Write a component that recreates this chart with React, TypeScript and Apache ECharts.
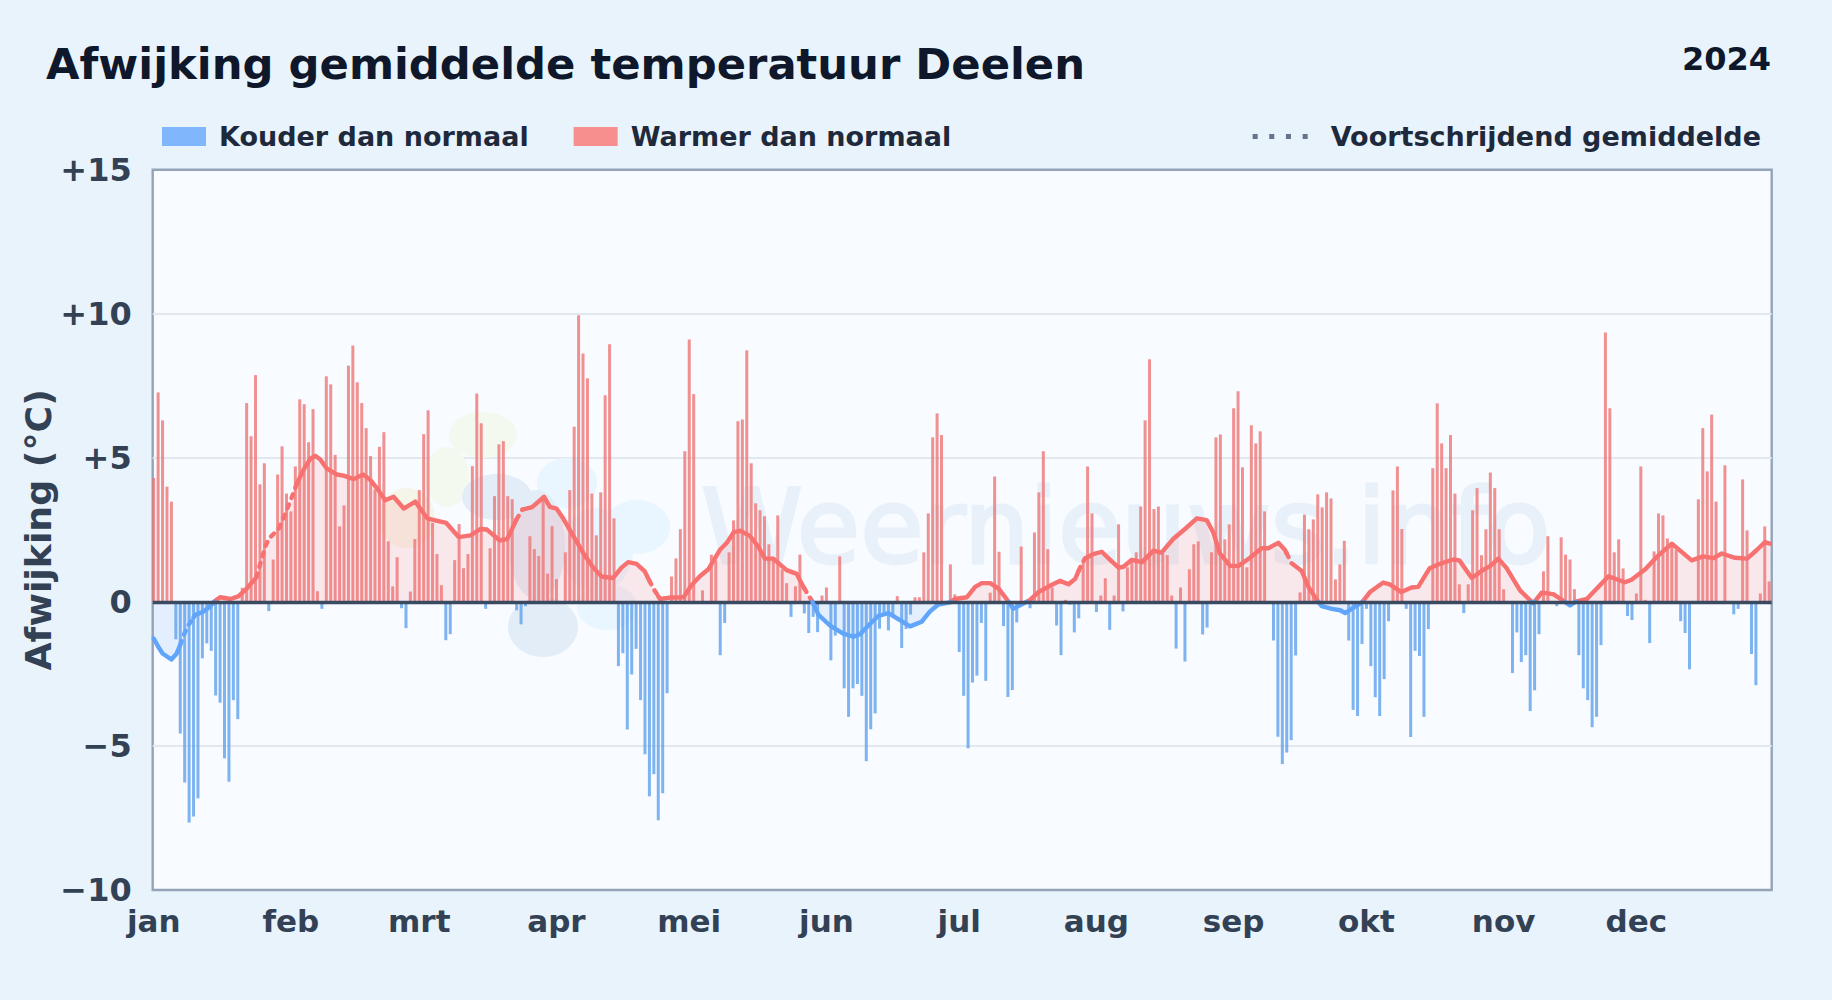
import React, { useEffect, useRef } from "react";
import * as echarts from "echarts";

const FONT = "DejaVu Sans";
const monthLabels = ["jan", "feb", "mrt", "apr", "mei", "jun", "jul", "aug", "sep", "okt", "nov", "dec"];
const monthStarts = [0, 31, 60, 91, 121, 152, 182, 213, 244, 274, 305, 335];
const yTicks = [-10, -5, 0, 5, 10, 15];

const janValues = [4.3,7.27,6.3,4.0,3.48,-1.3,-4.57,-6.27,-7.66,-7.45,-6.82,-1.96,-1.44,-1.7,-3.25,-3.5,-5.43,-6.24,-3.41,-4.07,0.49,6.9,5.75,7.87,4.08,4.81,-0.32,1.47,4.42,5.4,3.76];
const febValues = [3.14,4.7,7.03,6.86,5.54,6.69,0.37,-0.24,7.83,7.55,5.1,2.62,3.35,8.2,8.9,7.62,6.9,6.03,5.06,3.9,5.38,5.89,2.1,0.54,1.55,-0.22,-0.91,0.36,2.18];
const mrtValues = [3.88,5.82,6.65,2.74,1.66,0.58,-1.33,-1.12,1.45,2.7,1.17,1.66,4.71,7.23,6.2,-0.24,1.86,3.67,5.47,5.58,3.67,3.56,-0.29,-0.78,-0.15,2.28,1.83,1.59,3.65,0.98,2.63];
const aprValues = [0.79,0,1.72,3.88,6.08,9.95,8.62,7.76,3.76,2.31,3.8,7.17,8.94,2.9,-2.23,-1.78,-4.43,-2.52,-1.63,-3.41,-5.29,-6.75,-5.98,-7.58,-6.64,-3.17,0.88,1.51,2.52,5.23];
const meiValues = [9.11,7.21,0,0.4,0,1.64,1.44,-1.85,-0.73,1.72,2.83,6.27,6.33,8.73,4.81,3.42,3.18,2.97,2.0,1.56,3.0,1.13,0.65,-0.52,0.54,1.64,-0.4,-1.08,-0.52,-1.05,0.22];
const junValues = [0.5,-2.03,-1.17,1.58,-3,-3.99,-3,-2.85,-3.26,-5.53,-4.42,-3.87,-0.93,-0.45,-0.99,-0.5,0.2,-1.6,-0.94,-0.44,0.16,0.16,1.72,3.07,5.71,6.54,5.79,0,1.3,0.26];
const julValues = [-1.74,-3.26,-5.08,-2.8,-2.56,-0.73,-2.74,0.32,4.35,1.74,-0.84,-3.3,-3.06,-0.71,1.92,0,-0.22,2.41,3.8,5.23,1.83,0.5,-0.82,-1.85,0.07,-0.1,-1.06,-0.57,1.44,4.7,3.07];
const augValues = [-0.35,0.22,0.82,-0.97,0.22,2.69,-0.33,1.2,1.44,1.72,3.31,6.3,8.42,3.22,3.31,1.68,1.62,0.22,-1.62,0.5,-2.07,1.13,2.0,2.1,-1.13,-0.89,1.72,5.71,5.81,2.17,2.69];
const sepValues = [6.72,7.31,4.67,1.2,6.13,5.5,5.92,3.14,0,-1.34,-4.68,-5.63,-5.23,-4.8,-1.86,0.33,3.03,2.52,2.86,3.73,3.28,3.8,3.59,0.78,1.3,2.12,-1.34,-3.75,-3.96,-1.46];
const oktValues = [-0.24,-2.23,-3.31,-3.96,-2.68,-0.67,3.87,4.7,2.53,-0.24,-4.69,-1.7,-1.88,-3.99,-0.94,4.64,6.89,5.5,4.64,5.79,3.76,0.61,-0.39,0.61,3.18,3.95,1.62,2.52,4.49,3.95,2.52];
const novValues = [0.44,0,-2.47,-1.06,-2.09,-1.85,-3.79,-3.07,-1.12,1.06,2.28,0,-0.15,2.24,1.64,1.47,0.44,-1.85,-3,-3.41,-4.35,-3.99,-1.5,9.35,6.72,1.72,2.17,1.16,-0.49,-0.63];
const decValues = [0.29,4.7,0.07,-1.43,1.75,3.07,3,2.2,2.05,1.8,-0.67,-1.08,-2.34,0,3.56,6.03,4.53,6.5,3.48,0,4.74,0,-0.43,-0.24,4.25,2.48,-1.81,-2.89,0.29,2.62,0.71];

// moving average: [day of the year, deviation]
const movingAverage: [number, number][] = [
  [0,-1.27],[1,-1.55],[2,-1.79],[4,-2.0],[5.2,-1.79],[6,-1.49],[6.7,-1.18],[7.8,-0.82],[9.4,-0.45],[11.2,-0.34],[12.4,-0.2],[13.9,0.04],[15,0.16],[17.4,0.1],[19.2,0.2],[21,0.46],[23.2,0.85],[24.2,1.38],[25.2,1.92],[26,2.19],[28.2,2.53],[29.3,2.9],[31.2,3.63],[32.4,4.12],[33.9,4.6],[35.4,4.97],[36.5,5.07],[37.6,4.95],[39.1,4.63],[41.4,4.42],[42.9,4.38],[45.2,4.26],[47.3,4.42],[48.9,4.24],[50.8,3.87],[52.3,3.53],[54.2,3.65],[56.5,3.24],[59.1,3.48],[61.8,2.9],[63.6,2.83],[66.1,2.74],[68.9,2.25],[71.6,2.31],[73.8,2.53],[75.3,2.51],[78.2,2.13],[79.9,2.19],[82.1,2.9],[83.3,3.2],[85.5,3.29],[88.2,3.65],
  [89.5,3.3],[91,3.24],[92.5,2.9],[94.8,2.29],[97.1,1.68],[99.3,1.19],[101.2,0.88],[103.8,0.83],[105.7,1.19],[107.2,1.38],[109.1,1.32],[110.9,1.07],[112.9,0.46],[114.4,0.1],[116.6,0.15],[119.7,0.16],[121.5,0.58],[123.4,0.89],[125.3,1.13],[127.9,1.8],[129.5,2.05],[131,2.41],[132.5,2.47],[134.7,2.29],[136.6,1.92],[138.1,1.5],[140,1.5],[143,1.1],[145.3,0.97],[146.8,0.52],[148.7,0.04],[150.2,-0.45],[152.8,-0.82],[155.8,-1.1],[158.1,-1.21],[159.6,-1.12],[161.5,-0.82],[163.7,-0.49],[166,-0.39],[168.6,-0.63],[170.9,-0.85],[173.5,-0.69],[175.4,-0.33],[177.3,-0.09],[179.9,-0.02],[181,0.1],
  [183.7,0.16],[185.6,0.52],[187.1,0.65],[189,0.65],[190.9,0.46],[192.7,0.1],[194.2,-0.24],[196.5,-0.06],[198,0.07],[199.9,0.34],[202.5,0.56],[204.8,0.73],[206.7,0.61],[208.2,0.8],[209.3,1.19],[210.4,1.5],[212.3,1.66],[214.2,1.74],[216.1,1.46],[218,1.19],[219.1,1.22],[221,1.46],[223.3,1.38],[225.9,1.78],[227.7,1.71],[230.4,2.19],[233,2.53],[235.7,2.9],[237.9,2.84],[239.4,2.41],[240.9,1.68],[243.2,1.25],[245.1,1.25],[247.7,1.53],[250.3,1.86],[251.8,1.86],[254.1,2.05],[255.6,1.8],[257.1,1.34],[259.4,1.07],[260.9,0.52],[262.8,0.07],[263.9,-0.15],[266.2,-0.24],[268.1,-0.29],[269.2,-0.39],[271.1,-0.2],[273,-0.02],
  [274.8,0.34],[277.8,0.67],[279.3,0.61],[281.9,0.34],[284.2,0.5],[285.7,0.52],[288.3,1.17],[290.6,1.32],[293.6,1.47],[295,1.44],[297.8,0.83],[300.4,1.11],[302,1.25],[303.8,1.5],[305.6,1.19],[308.7,0.4],[311.7,-0.05],[313.6,0.32],[316.2,0.27],[318.5,0.04],[320,-0.12],[321.5,0.02],[323.8,0.1],[328.7,0.89],[332.4,0.68],[333.9,0.77],[337,1.13],[339.6,1.56],[343,2.02],[347.5,1.44],[350.1,1.58],[352.4,1.52],[354.3,1.68],[357.3,1.53],[360,1.5],[362.2,1.8],[364,2.07],[365.2,2.02],
];
// stretches of the moving average that the picture draws broken
const brokenStretches: [number, number][] = [[6, 9],[23.2, 32],[82, 83.3],[112, 114],[147, 149.5],[209, 210.4],[256, 257.5]];

const dailyValues = [...janValues, ...febValues, ...mrtValues, ...aprValues, ...meiValues, ...junValues, ...julValues, ...augValues, ...sepValues, ...oktValues, ...novValues, ...decValues];

type Pt = [number, number | null];
function pushSeg(list: Pt[], a: [number, number], b: [number, number]) {
  const last = list[list.length - 1];
  if (last && last[0] !== a[0]) list.push([a[0], null]);
  if (!last || last[0] !== a[0]) list.push(a);
  list.push(b);
}
function splitMovingAverage() {
  const pts: [number, number][] = [];
  const cuts = brokenStretches.flat();
  const valueAt = (x: number) => {
    for (let i = 1; i < movingAverage.length; i++) {
      const [x0, y0] = movingAverage[i - 1];
      const [x1, y1] = movingAverage[i];
      if (x >= x0 && x <= x1) return y0 + ((y1 - y0) * (x - x0)) / (x1 - x0);
    }
    return 0;
  };
  const xs = new Set<number>([...movingAverage.map((p) => p[0]), ...cuts]);
  for (let i = 1; i < movingAverage.length; i++) {
    const [x0, y0] = movingAverage[i - 1];
    const [x1, y1] = movingAverage[i];
    if (y0 * y1 < 0) xs.add(x0 - (y0 * (x1 - x0)) / (y1 - y0));
  }
  [...xs].sort((a, b) => a - b).forEach((x) => pts.push([x, valueAt(x)]));
  const lists = { posSolid: [] as Pt[], posDash: [] as Pt[], negSolid: [] as Pt[], negDash: [] as Pt[], pos: [] as Pt[], neg: [] as Pt[] };
  for (let i = 1; i < pts.length; i++) {
    const a = pts[i - 1];
    const b = pts[i];
    const midX = (a[0] + b[0]) / 2;
    const midY = (a[1] + b[1]) / 2;
    const broken = brokenStretches.some(([s, e]) => midX >= s && midX <= e);
    const up = midY >= 0;
    pushSeg(up ? lists.pos : lists.neg, a, b);
    pushSeg(up ? (broken ? lists.posDash : lists.posSolid) : broken ? lists.negDash : lists.negSolid, a, b);
  }
  return lists;
}

const RED = "#f87171";
const BLUE = "#60a5fa";
const BAR_RED = "#ee7575";
const BAR_BLUE = "#5ea1ec";

export default function App() {
  const ref = useRef<HTMLDivElement>(null);
  useEffect(() => {
    const chart = echarts.init(ref.current!, undefined, { renderer: "svg" });
    const ma = splitMovingAverage();
    const lineBase = { type: "line", showSymbol: false, symbol: "none", silent: true, z: 4, clip: true };
    const solid = { width: 4.4, cap: "round", join: "round" };
    const dash = { width: 4.4, cap: "round", join: "round", type: [4, 7] };
    const blob = (cx: number, cy: number, rx: number, ry: number, fill: string) => ({ type: "ellipse", z: 1, silent: true, shape: { cx, cy, rx, ry }, style: { fill } });
    chart.setOption({
      animation: false,
      backgroundColor: "#e8f3fc",
      textStyle: { fontFamily: FONT },
      title: [
        { text: "Afwijking gemiddelde temperatuur Deelen", left: 46, top: 42.5, padding: 0, textStyle: { fontFamily: FONT, fontSize: 43.3, fontWeight: "bold", color: "#0f172a" } },
        { text: "2024", right: 61, top: 43, padding: 0, textStyle: { fontFamily: FONT, fontSize: 32, fontWeight: "bold", color: "#0f172a" } },
      ],
      legend: [
        {
          left: 162, top: 123, padding: 0, itemWidth: 44, itemHeight: 19, itemGap: 45, selectedMode: false,
          data: [
            { name: "Kouder dan normaal", icon: "rect", itemStyle: { color: "#80b6fb", opacity: 1 } },
            { name: "Warmer dan normaal", icon: "rect", itemStyle: { color: "#f78f8f", opacity: 1 } },
          ],
          textStyle: { fontFamily: FONT, fontSize: 27, fontWeight: "bold", color: "#1e293b", padding: [0, 0, 0, 8] },
        },
        {
          right: 71, top: 123, padding: 0, itemWidth: 55, itemHeight: 5, selectedMode: false,
          data: [{ name: "Voortschrijdend gemiddelde", icon: "path://M0,0h5v5h-5z M16.6,0h5v5h-5z M33.3,0h5v5h-5z M50,0h5v5h-5z", itemStyle: { color: "#64748b", opacity: 1 } }],
          textStyle: { fontFamily: FONT, fontSize: 27, fontWeight: "bold", color: "#1e293b", padding: [0, 0, 0, 18] },
        },
      ],
      grid: { left: 152.7, right: 60.3, top: 169.7, bottom: 110, show: true, backgroundColor: "#f8fbff", borderColor: "#94a3b8", borderWidth: 2.4 },
      xAxis: {
        type: "value", min: -0.226, max: 365.57, splitLine: { show: false }, axisLine: { show: false }, axisTick: { show: false },
        axisLabel: {
          customValues: monthStarts, margin: 15, color: "#334155", fontFamily: FONT, fontSize: 31, fontWeight: "bold",
          formatter: (v: number) => monthLabels[monthStarts.indexOf(Math.round(v))] ?? "",
        },
      },
      yAxis: {
        type: "value", min: -10, max: 15, interval: 5,
        name: "Afwijking (°C)", nameLocation: "middle", nameGap: 96, nameMoveOverlap: false, nameTextStyle: { fontFamily: FONT, fontSize: 36.3, fontWeight: "bold", color: "#334155" },
        axisLine: { show: false }, axisTick: { show: false },
        splitLine: { show: true, showMinLine: false, showMaxLine: false, lineStyle: { color: "#e2e8f0", width: 2 } },
        axisLabel: {
          margin: 21, color: "#334155", fontFamily: FONT, fontSize: 32, fontWeight: "bold",
          formatter: (v: number) => (yTicks.includes(v) ? (v > 0 ? `+${v}` : v < 0 ? `\u2212${-v}` : "0") : ""),
        },
      },
      graphic: [
        blob(483, 435, 34, 23, "#f4f9f0"),
        blob(447, 477, 22, 30, "#f4f9f0"),
        blob(407, 518, 28, 30, "#f6f5e9"),
        blob(567, 483, 30, 25, "#e9f5ff"),
        blob(637, 527, 33, 27, "#e9f5ff"),
        blob(607, 607, 30, 23, "#e9f5ff"),
        blob(597, 550, 36, 42, "#e9f5ff"),
        blob(497, 497, 35, 23, "#e3edf8"),
        blob(543, 627, 35, 30, "#e3edf8"),
        blob(537, 545, 28, 55, "#e3edf8"),
        { type: "text", z: 1, silent: true, x: 701, y: 578, style: { text: "Weernieuws.info", fontFamily: FONT, fontSize: 103, fill: "#e8f1fa", stroke: "#e8f1fa", lineWidth: 3, textVerticalAlign: "bottom" } },
      ],
      series: [
        { name: "Warmer gebied", ...lineBase, data: ma.pos, lineStyle: { width: 0 }, areaStyle: { color: RED, opacity: 0.14 }, z: 2 },
        { name: "Kouder gebied", ...lineBase, data: ma.neg, lineStyle: { width: 0 }, areaStyle: { color: BLUE, opacity: 0.14 }, z: 2 },
        { name: "Kouder dan normaal", type: "bar", barWidth: 3, barGap: "-100%", z: 3, silent: true, itemStyle: { color: BAR_BLUE, opacity: 0.8 }, data: dailyValues.map((v, i) => [i, v < 0 ? v : null]) },
        { name: "Warmer dan normaal", type: "bar", barWidth: 3, barGap: "-100%", z: 3, silent: true, itemStyle: { color: BAR_RED, opacity: 0.8 }, data: dailyValues.map((v, i) => [i, v > 0 ? v : null]) },
        { name: "Voortschrijdend gemiddelde", ...lineBase, data: ma.posSolid, itemStyle: { color: RED }, lineStyle: { ...solid, color: RED } },
        { name: "Warm gebroken", ...lineBase, data: ma.posDash, lineStyle: { ...dash, color: RED } },
        { name: "Koud", ...lineBase, data: ma.negSolid, lineStyle: { ...solid, color: BLUE } },
        {
          name: "Koud gebroken", ...lineBase, data: ma.negDash, lineStyle: { ...dash, color: BLUE }, z: 5,
          markLine: { silent: true, symbol: "none", label: { show: false }, lineStyle: { color: "#3a4a60", width: 3.4, type: "solid" }, data: [{ yAxis: 0 }] },
        },
      ],
    });
    return () => chart.dispose();
  }, []);
  return <div ref={ref} style={{ position: "fixed", left: 0, top: 0, width: 1832, height: 1000 }} />;
}
